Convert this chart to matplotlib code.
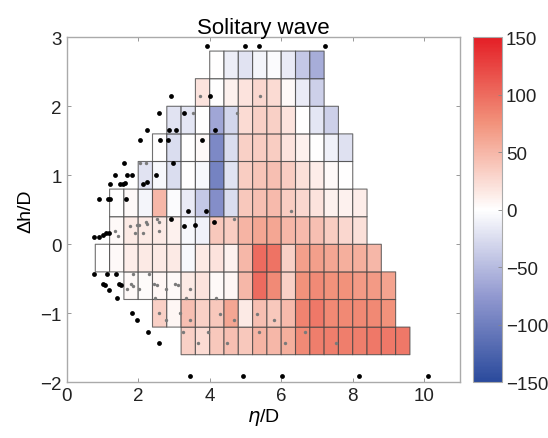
import numpy as np
import matplotlib
matplotlib.use('Agg')
import matplotlib.pyplot as plt
from matplotlib.colors import LinearSegmentedColormap

plt.rcParams['font.family'] = ['Liberation Sans', 'DejaVu Sans']

# grid rows: bottom edge of each row, x where the row starts, cell values (0.4 wide cells)
row_bottoms = [-1.6, -1.2, -0.8, -0.4, 0.0, 0.4, 0.8, 1.2, 1.6, 2.0, 2.4]
row_starts = [3.2, 2.4, 1.6, 0.8, 1.2, 1.2, 2.0, 2.4, 2.8, 3.6, 4.0]
row_values = [
    [32, 25, 38, 44, 38, 52, 50, 56, 80, 88, 88, 88, 88, 92, 92, 92],
    [32, 6, 44, 32, 38, 62, 15, 44, 38, 48, 85, 92, 82, 82, 82, 82, 76],
    [4, 3, 6, 4, 15, 19, 4, 6, 50, 100, 80, 32, 76, 80, 76, 76, 70, 70, 64],
    [0, 4, 12, 15, 15, 15, -5, 15, 19, 10, 50, 100, 96, 32, 66, 66, 62, 56, 56, 50],
    [4, 15, 15, 15, 10, -5, -10, 38, 34, 52, 62, 62, 50, 48, 44, 35, 28, 22],
    [0, 4, -8, 50, -3, -15, -40, -85, -25, 38, 44, 48, 35, 28, 19, 10, 10, 12],
    [-20, -5, -25, 0, -5, -95, -20, 35, 40, 44, 35, 22, 12, 4, 0],
    [0, -25, 0, 4, -90, -25, 32, 35, 35, 19, 10, 0, -10, -22],
    [-20, -18, 0, -65, -30, 25, 32, 32, 19, 0, -18, -35],
    [19, 0, 10, 19, 28, 25, 4, -15, -35],
    [0, -12, -20, -8, -3, -15, -40, -60],
]

black_x = [3.92, 4.99, 5.38, 7.23, 2.93, 4.02, 2.59, 3.28, 2.25, 2.86, 3.07, 4.14,
           2.05, 2.61, 2.84, 3.79, 1.60, 2.96, 1.34, 1.70, 1.83, 2.49,
           1.21, 1.49, 1.58, 1.64, 2.14, 2.25, 0.91, 1.15, 1.21, 1.65,
           3.38, 3.91, 2.91, 4.12, 3.29, 3.58, 0.77, 0.89, 1.02, 1.09, 1.19,
           0.77, 1.12, 1.38, 1.02, 1.07, 1.19, 1.47, 1.52, 1.41,
           1.82, 1.98, 2.28, 2.59, 3.46, 4.92, 6.01, 8.17, 10.10]
black_y = [2.88, 2.88, 2.88, 2.88, 2.15, 2.15, 1.90, 1.90, 1.65, 1.65, 1.65, 1.65,
           1.51, 1.51, 1.51, 1.51, 1.18, 1.18, 1.00, 1.00, 1.00, 1.00,
           0.88, 0.87, 0.87, 0.89, 0.87, 0.90, 0.66, 0.66, 0.66, 0.66,
           0.48, 0.48, 0.36, 0.32, 0.26, 0.28, 0.11, 0.11, 0.14, 0.16, 0.17,
           -0.43, -0.43, -0.43, -0.57, -0.59, -0.66, -0.57, -0.59, -0.78,
           -1.00, -1.10, -1.27, -1.43, -1.91, -1.91, -1.91, -1.91, -1.91]

gray_x = [3.72, 5.40, 3.54, 4.76, 2.05, 2.22, 4.68, 6.27,
          1.35, 1.44, 1.77, 1.91, 1.96, 2.03, 2.14, 2.23, 2.25, 2.53, 2.59, 2.57,
          1.86, 2.31, 1.79, 1.86, 1.68, 2.03, 2.44, 2.53, 2.79, 3.03, 3.12, 3.46,
          2.47, 3.35, 4.17, 2.59, 2.79, 3.17, 3.44, 3.24, 3.66, 3.96, 4.28, 4.68,
          5.31, 5.80, 4.49, 5.38, 6.10, 6.66, 7.54]
gray_y = [2.15, 2.15, 1.90, 1.90, 1.18, 1.18, 0.36, 0.48,
          0.19, 0.12, 0.26, 0.17, 0.28, 0.28, 0.17, 0.32, 0.29, 0.36, 0.32, 0.19,
          -0.43, -0.43, -0.57, -0.60, -0.65, -0.65, -0.57, -0.59, -0.65, -0.57, -0.59, -0.65,
          -0.78, -0.78, -0.78, -1.00, -1.10, -1.00, -1.10, -1.27, -1.43, -1.27, -1.01, -1.10,
          -1.01, -1.10, -1.43, -1.27, -1.43, -1.27, -1.43]

cell = 0.4
x_edges = np.round(np.arange(0.8, 9.6 + cell / 2, cell), 2)
y_edges = np.round(np.arange(-1.6, 2.8 + cell / 2, cell), 2)
Z = np.full((len(y_edges) - 1, len(x_edges) - 1), np.nan)
for i, (start, vals) in enumerate(zip(row_starts, row_values)):
    j0 = int(round((start - 0.8) / cell))
    Z[i, j0:j0 + len(vals)] = vals

cmap = LinearSegmentedColormap.from_list(
    'bwr_m', ['#2a4a9c', '#9299d0', '#ffffff', '#f2937c', '#e41f26'])

fig = plt.figure(figsize=(5.48, 4.39), dpi=100)
ax = fig.add_axes([0.1217, 0.1269, 0.7177, 0.7859])
pc = ax.pcolor(x_edges, y_edges, np.ma.masked_invalid(Z), cmap=cmap, vmin=-150, vmax=150,
               edgecolors=(0.25, 0.25, 0.25, 0.75), linewidth=0.8)
ax.scatter(gray_x, gray_y, s=6, color='#7a7a7a', zorder=3, linewidths=0)
ax.scatter(black_x, black_y, s=12, color='black', zorder=4, linewidths=0)

ax.set_xlim(0, 11)
ax.set_ylim(-2, 3)
ax.set_xticks([0, 2, 4, 6, 8, 10])
ax.set_yticks([-2, -1, 0, 1, 2, 3])
ax.tick_params(direction='in', length=3, width=0.6, color='#888888', labelsize=13.5,
               labelcolor='#222222', top=True, right=True)
for s in ax.spines.values():
    s.set_color('#aaaaaa')
    s.set_linewidth(1.0)
ax.set_title('Solitary wave', fontsize=16, pad=3)
ax.set_xlabel(r'$\eta$/D', fontsize=14, labelpad=1)
ax.set_ylabel('Δh/D', fontsize=14, labelpad=4)

cax = fig.add_axes([0.8637, 0.1269, 0.0518, 0.7859])
cb = fig.colorbar(pc, cax=cax, ticks=[-150, -100, -50, 0, 50, 100, 150])
cb.outline.set_edgecolor('#aaaaaa')
cb.outline.set_linewidth(0.8)
cax.tick_params(direction='in', length=3, width=0.6, color='#888888', labelsize=13.5,
                labelcolor='#222222', pad=3)
cax.set_yticklabels(['\u2212150', '\u2212100', '\u221250', '0', '50', '100', '150'])

fig.savefig('out.png', dpi=100)
